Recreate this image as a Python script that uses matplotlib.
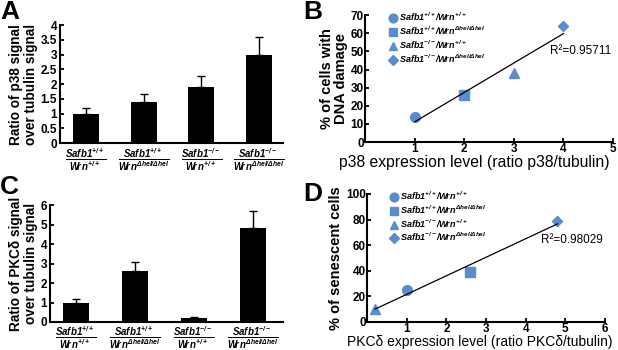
import matplotlib.pyplot as plt
import numpy as np

plt.rcParams['font.family'] = ['Liberation Sans', 'DejaVu Sans']
plt.rcParams['mathtext.fontset'] = 'custom'
plt.rcParams['mathtext.it'] = 'Liberation Sans:italic:bold'
plt.rcParams['mathtext.rm'] = 'Liberation Sans:italic:bold'
plt.rcParams['mathtext.bf'] = 'Liberation Sans:italic:bold'

# Dane
wrn = r'W\!r\hspace{0.06}n'
genotypy = [r'$\dfrac{Safb1^{+/+}}{%s^{+/+}}$' % wrn,
            r'$\dfrac{Safb1^{+/+}}{%s^{\Delta hel/\Delta hel}}$' % wrn,
            r'$\dfrac{Safb1^{-/-}}{%s^{+/+}}$' % wrn,
            r'$\dfrac{Safb1^{-/-}}{%s^{\Delta hel/\Delta hel}}$' % wrn]
legenda = [r'$Safb1^{+/+}/%s^{+/+}$' % wrn,
           r'$Safb1^{+/+}/%s^{\Delta hel/\Delta hel}$' % wrn,
           r'$Safb1^{-/-}/%s^{+/+}$' % wrn,
           r'$Safb1^{-/-}/%s^{\Delta hel/\Delta hel}$' % wrn]
p38 = [1.0, 1.4, 1.9, 3.0]
p38_err = [0.2, 0.28, 0.38, 0.6]
pkc = [1.0, 2.6, 0.2, 4.8]
pkc_err = [0.2, 0.48, 0.05, 0.88]
p38_poziomy = [1, 2, 3, 4]
uszkodzenia = [14, 26, 38, 64]
starzenie = [25, 39, 10, 79]
markery = ['o', 's', '^', 'D']
kolor = '#5b8dca'

fig = plt.figure(figsize=(6.18, 3.5), dpi=100)


def wykres_slupkowy(ax, wartosci, bledy, ylim, yticks, ytl, ylabel, xlim):
    x = np.arange(len(wartosci))
    ax.bar(x, wartosci, width=0.45, color='black')
    ax.errorbar(x, wartosci, yerr=[np.zeros(len(bledy)), bledy], fmt='none',
                ecolor='black', elinewidth=1, capsize=3, capthick=1)
    ax.set_xlim(*xlim)
    ax.set_ylim(*ylim)
    ax.set_yticks(yticks)
    ax.set_yticklabels(ytl, fontsize=8.5, fontweight='bold')
    ax.set_xticks(x)
    ax.set_xticklabels(genotypy, fontsize=7)
    ax.tick_params(axis='x', length=0, pad=2)
    ax.tick_params(axis='y', direction='in', length=3, width=1.3, pad=2)
    ax.spines['top'].set_visible(False)
    ax.spines['right'].set_visible(False)
    ax.spines['left'].set_linewidth(1.5)
    ax.spines['bottom'].set_linewidth(1.5)
    ax.set_ylabel(ylabel, fontsize=9.8, fontweight='bold', linespacing=1.1, labelpad=2)


def wykres_punktowy(ax, x, y, xlim, ylim, yticks, xlabel, xfs, xpos, ylabel, r2, r2_pos):
    for xi, yi, m, lab in zip(x, y, markery, legenda):
        ms = 5.5 if m == 'D' else 7
        ax.plot(xi, yi, marker=m, linestyle='none', color=kolor, markersize=ms, label=lab)
    a, b = np.polyfit(x, y, 1)
    xs = np.array([min(x), max(x)])
    ax.plot(xs, a * xs + b, color='black', linewidth=0.9)
    ax.text(r2_pos[0], r2_pos[1], r2, fontsize=8.5, ha='left', va='center')
    ax.set_xlim(*xlim)
    ax.set_ylim(*ylim)
    ax.set_yticks(yticks)
    ax.set_yticklabels([str(t) for t in yticks], fontsize=8.5, fontweight='bold')
    xt = list(range(1, int(xlim[1]) + 1))
    ax.set_xticks(xt)
    ax.set_xticklabels([str(t) for t in xt], fontsize=8.5, fontweight='bold')
    ax.tick_params(direction='in', length=3, width=1.3, pad=1)
    ax.spines['top'].set_visible(False)
    ax.spines['right'].set_visible(False)
    ax.spines['left'].set_linewidth(1.5)
    ax.spines['bottom'].set_linewidth(1.5)
    ax.set_xlabel(xlabel, fontsize=xfs, labelpad=0)
    ax.xaxis.set_label_coords(xpos, -0.1, transform=ax.transAxes)
    ax.xaxis.label.set_va('top')
    ax.set_ylabel(ylabel, fontsize=10.5, fontweight='bold', linespacing=1.0, labelpad=2)
    ax.legend(loc='upper left', bbox_to_anchor=(0.08, 1.06), frameon=False,
              fontsize=6.5, handletextpad=0.1, labelspacing=0.15, borderaxespad=0,
              handlelength=1.0, markerscale=0.9)


# Panel A
axA = fig.add_axes([0.097, 0.591, 0.361, 0.337])
wykres_slupkowy(axA, p38, p38_err, (0, 4), np.arange(0, 4.5, 0.5),
                ['0', '0.5', '1', '1.5', '2', '2.5', '3', '3.5', '4'],
                'Ratio of p38 signal\nover tubulin signal', (-0.45, 3.42))

# Panel C
axC = fig.add_axes([0.081, 0.08, 0.377, 0.334])
wykres_slupkowy(axC, pkc, pkc_err, (0, 6), np.arange(0, 7),
                [str(t) for t in range(7)],
                'Ratio of PKCδ signal\nover tubulin signal', (-0.44, 3.51))

# Panel B
axB = fig.add_axes([0.591, 0.594, 0.401, 0.363])
wykres_punktowy(axB, p38_poziomy, uszkodzenia, (0, 5), (0, 70),
                list(range(0, 80, 10)),
                'p38 expression level (ratio p38/tubulin)', 11.3, 0.44,
                '% of cells with\nDNA damage', 'R²=0.95711', (3.73, 50))

# Panel D
axD = fig.add_axes([0.594, 0.08, 0.385, 0.366])
wykres_punktowy(axD, pkc, starzenie, (0, 6), (0, 100),
                list(range(0, 120, 20)),
                'PKCδ expression level (ratio PKCδ/tubulin)', 10, 0.475,
                '% of senescent cells', 'R²=0.98029', (4.39, 64))

for lit, x, y in [('A', 0.0, 1.0), ('B', 0.49, 1.0), ('C', 0.0, 0.5), ('D', 0.49, 0.48)]:
    fig.text(x, y, lit, fontsize=19, fontweight='bold', ha='left', va='top')

plt.savefig('out.png', dpi=100)
